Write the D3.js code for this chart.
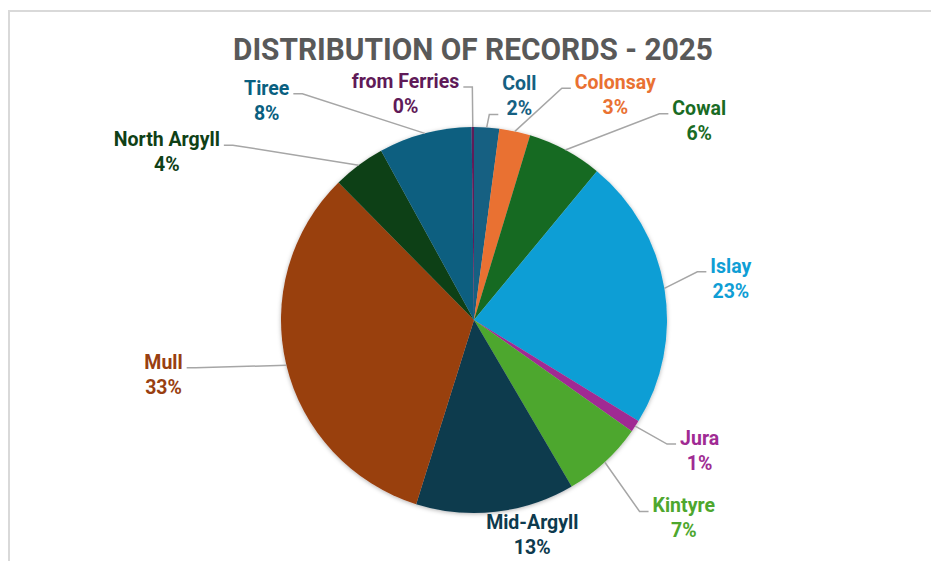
<!DOCTYPE html>
<html>
<head>
<meta charset="utf-8">
<script src="https://cdn.jsdelivr.net/npm/d3@7"></script>
<style>
  body { margin: 0; background: #fff; }
  svg { display: block; }
</style>
</head>
<body>
<div id="chart"></div>
<script>
// records per region, in the order the slices run clockwise from 12 o'clock
const regions = ["Coll", "Colonsay", "Cowal", "Islay", "Jura", "Kintyre", "Mid-Argyll", "Mull", "North Argyll", "Tiree", "from Ferries"];
const records = [21, 26, 63, 228, 10, 68, 133, 328, 44, 78, 2];
const colours = ["#156082", "#E97132", "#196B24", "#0F9ED5", "#A02B93", "#4EA72E", "#0D3A4E", "#993F11", "#0F4016", "#095F80", "#601A58"];

// label placement: offset from the outer arc point, and which text line the leader joins (0 = none)
const labelNudge = [[30, 2], [92, -3], [115, 0], [27, -9], [31, -3], [52, 21], [32, -23], [-84, -6], [-168, 13], [-148, 0], [-67, 1]];
const leaderLine = [2, 1, 1, 1, 1, 1, 0, 1, 1, 1, 1];

const width = 931, height = 561;
const cx = 474, cy = 320, radius = 193;
const lineGap = 25;

const svg = d3.select("#chart")
  .append("svg")
    .attr("width", width)
    .attr("height", height);

// chart frame (only top and left edges fall inside the window)
svg.append("rect")
  .attr("x", 9).attr("y", 11)
  .attr("width", 960).attr("height", 600)
  .attr("fill", "none")
  .attr("stroke", "#d9d9d9")
  .attr("stroke-width", 2);

svg.append("text")
  .attr("x", 473).attr("y", 60)
  .attr("text-anchor", "middle")
  .attr("textLength", 480)
  .attr("lengthAdjust", "spacingAndGlyphs")
  .style("font-family", "Roboto, 'Liberation Sans', sans-serif")
  .style("font-weight", "bold")
  .style("font-size", "31px")
  .attr("fill", "#595959")
  .text("DISTRIBUTION OF RECORDS - 2025");

const defs = svg.append("defs");
defs.append("filter")
  .attr("id", "shadow")
  .attr("x", "-10%").attr("y", "-10%")
  .attr("width", "120%").attr("height", "120%")
  .append("feDropShadow")
    .attr("dx", 0).attr("dy", 1)
    .attr("stdDeviation", 2)
    .attr("flood-color", "#000")
    .attr("flood-opacity", 0.3);

const total = d3.sum(records);
const data = regions.map((r, i) => ({ region: r, value: records[i], i: i }));

const pie = d3.pie().sort(null).value(d => d.value);
const arcs = pie(data);

const arc = d3.arc().innerRadius(0).outerRadius(radius);
const edgeArc = d3.arc().innerRadius(radius).outerRadius(radius);
const outerArc = d3.arc().innerRadius(radius + 40).outerRadius(radius + 40);

const g = svg.append("g")
  .attr("transform", `translate(${cx},${cy})`);

g.append("g")
  .attr("filter", "url(#shadow)")
  .selectAll("path")
  .data(arcs)
  .join("path")
    .attr("d", arc)
    .attr("fill", d => colours[d.data.i]);

// point on an arc at the slice's middle angle
function midPoint(a, d) {
  const m = (d.startAngle + d.endAngle) / 2;
  return a.centroid({ startAngle: m, endAngle: m });
}

const labels = g.append("g")
  .style("font-family", "Roboto, 'Liberation Sans', sans-serif")
  .style("font-weight", "bold")
  .style("font-size", "19.5px");

const leaders = g.append("g");

arcs.forEach(d => {
  const i = d.data.i;
  const o = midPoint(outerArc, d);
  const lx = o[0] + labelNudge[i][0];
  const ly = o[1] + labelNudge[i][1];

  const t = labels.append("text")
    .attr("text-anchor", "middle")
    .attr("fill", colours[i]);
  const l1 = t.append("tspan").attr("x", lx).attr("y", ly).text(d.data.region);
  const l2 = t.append("tspan").attr("x", lx).attr("y", ly + lineGap)
    .text(Math.round(d.data.value / total * 100) + "%");

  if (!leaderLine[i]) return;
  const w = Math.max(l1.node().getComputedTextLength(), l2.node().getComputedTextLength());
  const p = midPoint(edgeArc, d);
  const right = lx < p[0];
  const ax = right ? lx + w / 2 + 4 : lx - w / 2 - 4;
  const ay = leaderLine[i] === 2 ? ly + lineGap : ly - 1;
  const ex = right ? ax + 9 : ax - 9;

  leaders.append("path")
    .attr("d", d3.line()([[ax, ay], [ex, ay], p]))
    .attr("fill", "none")
    .attr("stroke", "#a6a6a6")
    .attr("stroke-width", 1.5);
});
</script>
</body>
</html>
